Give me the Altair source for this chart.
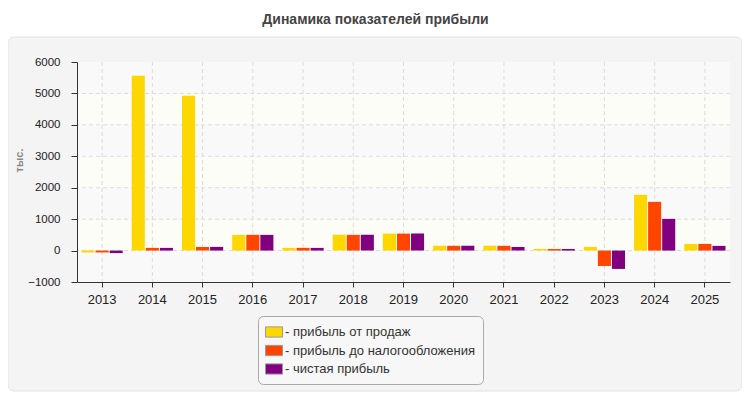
import altair as alt
import pandas as pd

years = ["2013", "2014", "2015", "2016", "2017", "2018", "2019",
         "2020", "2021", "2022", "2023", "2024", "2025"]
series = ["прибыль от продаж", "прибыль до налогообложения", "чистая прибыль"]
colors = ["#FFD700", "#FF4500", "#800080"]

sales = [-60, 5560, 4925, 500, 85, 500, 540, 150, 150, 50, 117, 1773, 212]
pretax = [-60, 85, 117, 500, 85, 500, 540, 150, 150, 50, -490, 1550, 212]
net = [-80, 85, 117, 500, 85, 500, 540, 150, 117, 50, -584, 1008, 149]

y_ticks = [-1000, 0, 1000, 2000, 3000, 4000, 5000, 6000]

W, H = 653, 220

rows = []
for name, vals in zip(series, [sales, pretax, net]):
    for yr, v in zip(years, vals):
        rows.append({"year": yr, "series": name, "value": v})
df = pd.DataFrame(rows)

bands = pd.DataFrame({
    "lo": y_ticks[:-1],
    "hi": y_ticks[1:],
    "fill": ["#f9f9f9", "#fcfdf6", "#f9f9f9", "#fcfdf6", "#f9f9f9", "#fcfdf6", "#f9f9f9"],
})

y_scale = alt.Scale(domain=[-1000, 6000], nice=False, zero=False)
x_scale = alt.Scale(domain=years, paddingInner=0.18, paddingOuter=0.09)

y_axis = alt.Axis(values=y_ticks, format="d", labelOverlap=False, grid=False,
                  domainColor="#333", labelFontSize=11.5,
                  tickColor="#333", tickSize=6, labelPadding=11, zindex=1,
                  titleColor="#888", titleFontSize=11, titleFontWeight="bold",
                  titleX=-58, titleY=98, titleBaseline="middle")
x_axis = alt.Axis(labelAngle=0, domainColor="#333", labelFontSize=13, grid=False,
                  tickColor="#333", tickSize=5, labelPadding=6, zindex=1)

# grey rounded panel behind the plot
panel = alt.Chart(pd.DataFrame({"a": [0]})).mark_rect(
    fill="#f4f4f4", stroke="#e2e2e2", cornerRadius=6
).encode(
    x=alt.value(-69), x2=alt.value(W + 12),
    y=alt.value(-25), y2=alt.value(H + 109)
)

band_layer = alt.Chart(bands).mark_rect().encode(
    x=alt.value(0), x2=alt.value(W),
    y=alt.Y("lo:Q", scale=y_scale, axis=y_axis, title="тыс."),
    y2="hi:Q",
    fill=alt.Fill("fill:N", scale=None, legend=None)
)

hgrid = alt.Chart(pd.DataFrame({"t": y_ticks[1:-1]})).mark_rule(
    color="#dcdcdc", strokeDash=[4, 3]
).encode(y=alt.Y("t:Q", scale=y_scale, axis=y_axis, title="тыс."))

vgrid = alt.Chart(pd.DataFrame({"year": years})).mark_rule(
    color="#dcdcdc", strokeDash=[4, 3]
).encode(x=alt.X("year:N", scale=x_scale, axis=x_axis, title=None))

bars = alt.Chart(df).mark_bar().encode(
    x=alt.X("year:N", scale=x_scale, axis=x_axis, title=None),
    xOffset=alt.XOffset("series:N", sort=series,
                        scale=alt.Scale(domain=series, paddingInner=0.07)),
    y=alt.Y("value:Q", scale=y_scale, axis=y_axis, title="тыс."),
    color=alt.Color("series:N", sort=series,
                    scale=alt.Scale(domain=series, range=colors),
                    legend=alt.Legend(
                        title=None, orient="none", legendX=181, legendY=254,
                        labelExpr="'- ' + datum.label", labelLimit=300,
                        symbolType="M-1,-0.6H1V0.6H-1Z", symbolSize=289,
                        symbolStrokeColor="#999", symbolStrokeWidth=1,
                        symbolOpacity=1, rowPadding=1.5, labelOffset=2,
                        fillColor="#f7f7f7", strokeColor="#aaa", cornerRadius=5,
                        padding=7, labelFontSize=13, labelColor="#333"))
)

chart = alt.layer(panel, band_layer, hgrid, vgrid, bars).properties(
    width=W, height=H,
    title=alt.Title("Динамика показателей прибыли", fontSize=14, fontWeight="bold",
                    color="#444", offset=10, dx=-28),
    autosize=alt.AutoSizeParams(type="none"),
    padding={"left": 69, "top": 54, "right": 12, "bottom": 110},
    background="white"
).configure(
    font="Liberation Sans"
).configure_axis(
    labelColor="#222", labelFont="Liberation Sans"
).configure_view(
    stroke="#dcdcdc"
)

chart.save("out.html", embed_options={"renderer": "svg", "actions": False})
